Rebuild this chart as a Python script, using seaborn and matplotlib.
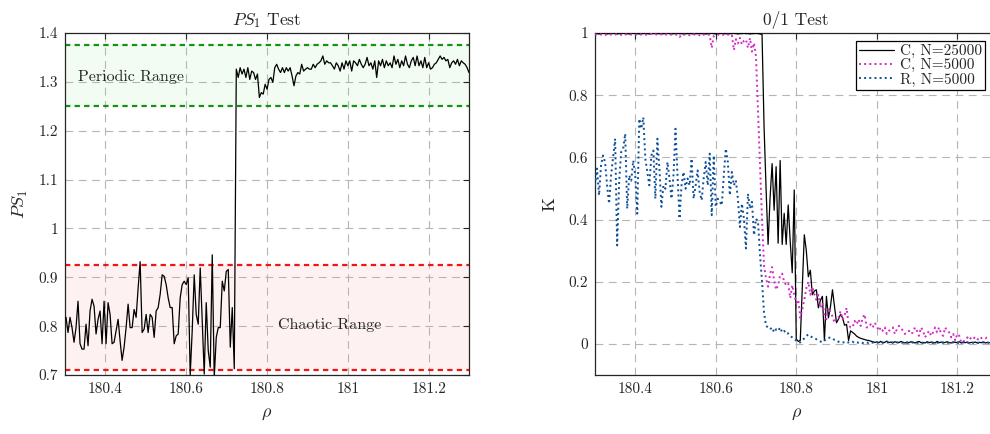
import numpy as np
import matplotlib
matplotlib.use("Agg")
import matplotlib.pyplot as plt
import seaborn as sns
from matplotlib.ticker import FuncFormatter

# ---------------- data ----------------
# PS1 test (left panel)
ps1_chaotic = [0.818,0.787,0.818,0.797,0.767,0.797,0.851,0.764,0.753,0.753,
               0.804,0.760,0.831,0.855,0.841,0.784,0.814,0.831,0.764,0.851,
               0.764,0.848,0.824,0.764,0.767,0.791,0.814,0.770,0.730,0.757,
               0.797,0.845,0.797,0.797,0.834,0.818,0.878,0.932,0.787,0.794,
               0.824,0.787,0.824,0.818,0.777,0.831,0.838,0.865,0.905,0.902,
               0.885,0.858,0.838,0.838,0.764,0.780,0.784,0.858,0.885,0.892,
               0.885,0.899,0.700,0.791,0.905,0.824,0.804,0.919,0.811,0.702,
               0.848,0.750,0.716,0.946,0.695,0.777,0.797,0.797,0.892,0.872,
               0.912,0.916,0.757,0.838,0.713]
ps1_periodic = [1.326,1.309,1.329,1.316,1.326,1.309,1.329,1.305,1.322,1.319,
                1.305,1.316,1.268,1.278,1.275,1.295,1.285,1.305,1.309,1.299,
                1.329,1.336,1.326,1.319,1.329,1.319,1.329,1.322,1.329,1.312,
                1.292,1.312,1.319,1.316,1.336,1.322,1.326,1.329,1.326,1.326,
                1.336,1.329,1.336,1.339,1.343,1.353,1.336,1.343,1.339,1.339,
                1.333,1.326,1.339,1.333,1.322,1.339,1.326,1.343,1.333,1.343,
                1.322,1.343,1.339,1.333,1.346,1.336,1.329,1.336,1.350,1.333,
                1.339,1.326,1.343,1.309,1.343,1.333,1.346,1.329,1.343,1.333,
                1.339,1.329,1.353,1.336,1.346,1.329,1.343,1.333,1.353,1.336,
                1.329,1.343,1.350,1.333,1.353,1.333,1.343,1.329,1.350,1.329,
                1.339,1.326,1.329,1.336,1.339,1.346,1.353,1.346,1.350,1.343,
                1.346,1.329,1.339,1.343,1.336,1.346,1.333,1.343,1.339,1.336,
                1.329,1.319]
rho_chaotic_range = (180.3025, 180.719)
rho_periodic_range = (180.724, 181.30)
periodic_band = (1.25, 1.375)
chaotic_band = (0.71, 0.925)

# 0/1 test (right panel), sampled every 0.005 from rho = 180.30
rho_start, rho_step = 180.30, 0.005
k_c25000 = [0.998,0.998,0.997,0.998,0.999,0.998,0.997,0.998,0.998,0.999,
            0.998,0.997,0.998,0.998,0.999,0.998,0.998,0.997,0.998,0.999,
            0.998,0.998,0.997,0.998,0.998,0.999,0.998,0.997,0.998,0.998,
            0.999,0.998,0.998,0.997,0.998,0.998,0.999,0.998,0.997,0.998,
            0.998,0.999,0.998,0.998,0.997,0.998,0.998,0.999,0.998,0.997,
            0.998,0.998,0.999,0.998,0.998,0.997,0.998,0.998,0.999,0.998,
            0.997,0.998,0.998,0.999,0.998,0.998,0.997,0.998,0.998,0.999,
            0.998,0.997,0.998,0.998,0.999,0.998,0.998,0.997,0.998,0.998,
            0.999,0.998,0.997,
            0.995,0.70,0.50,0.32,0.47,0.58,0.43,0.57,0.324,0.59,
            0.32,0.42,0.32,0.447,0.33,0.229,0.495,0.016,0.008,0.011,
            0.18,0.351,0.30,0.216,0.237,0.158,0.17,0.174,0.116,0.14,
            0.153,0.011,0.153,0.084,0.12,0.174,0.12,0.068,0.08,0.095,
            0.084,0.06,0.063,0.011,0.042,0.037,0.032,0.025,0.021,0.018,
            0.016,0.014,0.012,0.011,0.009,0.007,0.005,
            0.006,0.004,0.008,0.003,0.005,0.009,0.004,0.006,0.003,0.007,
            0.005,0.004,0.008,0.005,0.003,0.006,0.004,0.007,0.005,0.003,
            0.006,0.008,0.004,0.005,0.003,0.007,0.004,0.006,0.005,0.003,
            0.008,0.004,0.006,0.003,0.005,0.007,0.004,0.003,0.006,0.005,
            0.004,0.007,0.003,0.005,0.004,0.006,0.003,0.005,0.004,0.006,
            0.003,0.005,0.004,0.006,0.003,0.005,0.004]
k_c5000 = [0.996,0.995,0.997,0.995,0.996,0.994,0.996,0.997,0.995,0.996,
           0.995,0.997,0.996,0.994,0.996,0.995,0.997,0.996,0.995,0.996,
           0.994,0.996,0.997,0.995,0.996,0.995,0.994,0.996,0.997,0.995,
           0.996,0.994,0.995,0.996,0.997,0.995,0.996,0.994,0.995,0.996,
           0.995,0.994,0.987,
           0.995,0.994,0.996,0.995,0.993,0.995,0.996,0.994,0.995,0.993,
           0.990,0.995,0.994,0.996,0.993,0.952,0.990,
           0.994,0.995,0.993,0.995,0.994,0.992,0.995,0.993,0.994,
           0.945,0.980,0.966,0.984,0.963,0.975,0.979,0.952,0.984,0.940,0.968,0.925,
           0.75,0.58,0.40,0.25,0.21,0.184,0.226,0.247,0.205,0.174,
           0.189,0.221,0.226,0.20,0.189,0.195,0.147,0.189,0.158,0.132,
           0.142,0.084,0.111,0.142,0.179,0.200,0.158,0.184,0.16,0.142,
           0.158,0.116,0.132,0.095,0.079,0.116,0.10,0.089,0.068,0.084,
           0.084,0.105,0.079,0.09,0.116,0.063,0.053,0.053,0.074,0.063,
           0.079,0.058,0.084,0.095,0.053,
           0.053,0.063,0.053,0.068,0.058,0.042,0.053,0.042,0.053,0.032,
           0.042,0.047,0.053,0.032,0.047,0.058,0.053,0.042,0.032,0.037,
           0.042,0.032,0.037,0.053,0.042,0.026,0.053,0.042,0.021,0.032,
           0.042,0.026,0.037,0.053,0.037,0.053,0.032,0.026,0.053,0.042,
           0.037,0.021,0.032,0.011,0.032,0.026,0.005,0.005,0.016,0.021,
           0.013,0.021,0.016,0.023,0.016,0.011,0.019,0.021,0.018,0.022,0.020]
k_r5000 = [0.510,0.564,0.478,0.574,0.606,0.585,0.510,0.451,0.542,0.600,
           0.660,0.317,0.521,0.617,0.628,0.676,0.435,0.542,0.525,0.590,
           0.542,0.419,0.724,0.692,0.729,0.596,0.553,0.510,0.606,0.622,
           0.467,0.660,0.564,0.441,0.510,0.499,0.585,0.532,0.467,0.542,
           0.692,0.542,0.403,0.510,0.553,0.499,0.532,0.510,0.596,0.467,
           0.510,0.558,0.489,0.462,0.532,0.585,0.510,0.612,0.414,0.606,
           0.441,0.467,0.457,0.446,0.542,0.628,0.585,0.478,0.553,0.510,
           0.526,0.467,0.376,0.451,0.403,0.307,0.483,0.435,0.457,0.350,
           0.403,0.393,0.286,
           0.20,0.10,0.058,0.053,0.047,0.053,0.037,0.047,0.042,0.053,
           0.037,0.042,0.032,0.034,0.026,0.021,0.016,0.011,0.005,0.005,
           0.011,0.018,0.026,0.030,0.025,0.021,0.018,0.015,0.011,0.008,
           0.005,0.011,0.015,0.019,0.021,0.017,0.013,0.011,0.007,0.005,
           0.004,0.006,0.003,0.005,0.004,0.007,0.003,0.005,0.004,0.006,
           0.003,0.004,0.005,0.003,0.006,0.004,0.003,0.005,0.004,0.003,
           0.005,0.004,0.006,0.003,0.004,0.005,0.003,0.004,0.006,0.003,
           0.004,0.005,0.003,0.004,0.003,0.005,0.004,0.003,0.005,0.004,
           0.003,0.004,0.005,0.003,0.004,0.003,0.005,0.004,0.003,0.004,
           0.005,0.003,0.004,0.003,0.004,0.005,0.003,0.004,0.003,0.004,
           0.005,0.003,0.004,0.003,0.005,0.004,0.003,0.004,0.003,0.004,
           0.005,0.003,0.004,0.003]
series_labels = ["C, N=25000", "C, N=5000", "R, N=5000"]
series_colors = ["#000000", "#d22cc4", "#0d4f98"]

x_ticks = [180.4, 180.6, 180.8, 181.0, 181.2]
y_ticks_left = [0.7, 0.8, 0.9, 1.0, 1.1, 1.2, 1.3, 1.4]
y_ticks_right = [0, 0.2, 0.4, 0.6, 0.8, 1.0]

# ---------------- style ----------------
sns.set_style("white")
plt.rcParams['font.family'] = ['cmr10', 'DejaVu Serif']
plt.rcParams['mathtext.fontset'] = 'cm'
plt.rcParams['axes.formatter.use_mathtext'] = True
plt.rcParams['axes.unicode_minus'] = False

fig = plt.figure(figsize=(9.9, 4.34), dpi=100)
W, H = 990.0, 434.0
ax1 = fig.add_axes([65 / W, 1 - 375 / H, (469 - 65) / W, (375 - 33) / H])
ax2 = fig.add_axes([595 / W, 1 - 375 / H, (997.5 - 595) / W, (375 - 33) / H])

fmt = FuncFormatter(lambda v, p: f"{v:g}")
grid_kw = dict(color="#b5b5b5", linestyle=(0, (7, 5)), linewidth=0.8)

for ax in (ax1, ax2):
    ax.set_axisbelow(True)
    ax.grid(True, **grid_kw)
    ax.tick_params(direction="in", top=True, right=True, length=4, width=0.8,
                   colors="#262626", labelsize=11, pad=5)
    for s in ax.spines.values():
        s.set_color("#262626")
        s.set_linewidth(0.9)
    ax.xaxis.set_major_formatter(fmt)
    ax.yaxis.set_major_formatter(fmt)
    ax.set_xticks(x_ticks)

# ---- left panel ----
rho_c = np.linspace(*rho_chaotic_range, len(ps1_chaotic))
rho_p = np.linspace(*rho_periodic_range, len(ps1_periodic))
rho_ps1 = np.concatenate([rho_c, rho_p])
ps1 = np.array(ps1_chaotic + ps1_periodic)

ax1.axhspan(*periodic_band, color="#f2fcf2", zorder=0, lw=0)
ax1.axhspan(*chaotic_band, color="#fdf1f1", zorder=0, lw=0)
for yv in periodic_band:
    ax1.axhline(yv, color="#119411", lw=1.6, ls=(0, (2.4, 1.9)), zorder=2)
for yv in chaotic_band:
    ax1.axhline(yv, color="#f01515", lw=1.6, ls=(0, (2.4, 1.9)), zorder=2)
sns.lineplot(x=rho_ps1, y=ps1, ax=ax1, color="black", lw=0.9,
             estimator=None, sort=False, zorder=3)
ax1.set_xlim(180.3, 181.3)
ax1.set_ylim(0.7, 1.4)
ax1.set_yticks(y_ticks_left)
ax1.text(180.333, 1.311, "Periodic Range", fontsize=11.5, va="center", ha="left")
ax1.text(180.955, 0.802, "Chaotic Range", fontsize=11.5, va="center", ha="center")
ax1.set_title(r"$PS_1$ Test", fontsize=12.5, pad=6)
ax1.set_xlabel(r"$\rho$", fontsize=13, labelpad=8)
ax1.set_ylabel(r"$PS_1$", fontsize=13, labelpad=6)

# ---- right panel ----
series = [k_c25000, k_c5000, k_r5000]
styles = ["-", ":", ":"]
widths = [0.9, 1.4, 1.4]
for vals, lab, col, ls, lw in zip(series, series_labels, series_colors, styles, widths):
    rho = rho_start + rho_step * np.arange(len(vals))
    sns.lineplot(x=rho, y=vals, ax=ax2, color=col, linestyle=ls, lw=lw,
                 label=lab, estimator=None, sort=False, zorder=3)
ax2.set_xlim(180.3, 181.3)
ax2.set_ylim(-0.1, 1.0)
ax2.set_yticks(y_ticks_right)
ax2.set_title("0/1 Test", fontsize=12.5, pad=6)
ax2.set_xlabel(r"$\rho$", fontsize=13, labelpad=8)
ax2.set_ylabel("K", fontsize=13, labelpad=8)
leg = ax2.legend(loc="upper right", bbox_to_anchor=(985 / W, 1 - 41 / H),
                 bbox_transform=fig.transFigure, borderaxespad=0, fontsize=11,
                 frameon=True, fancybox=False, framealpha=1, edgecolor="black",
                 handlelength=2.3, labelspacing=0.02, borderpad=0.2,
                 handletextpad=0.4)
leg.get_frame().set_linewidth(0.9)

fig.savefig("out.png", dpi=100)
